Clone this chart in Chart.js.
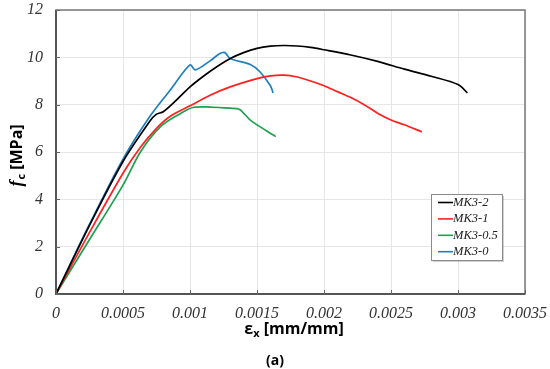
<!DOCTYPE html>
<html>
<head>
<meta charset="utf-8">
<script src="https://cdn.jsdelivr.net/npm/chart.js@4"></script>
<style>
  html, body { margin: 0; padding: 0; background: #fff; }
  #wrap { width: 550px; height: 369px; }
</style>
</head>
<body>
<div id="wrap"><canvas id="fc"></canvas></div>
<script>
// values (strain in mm/mm, stress in MPa)
var labels = ['MK3-2', 'MK3-1', 'MK3-0.5', 'MK3-0'];
var colors = ['#000000', '#ff1f1f', '#1fa050', '#1f7fbf'];

var strain2 = [0, 0.00025, 0.0005, 0.0007, 0.00075, 0.0008, 0.0009, 0.001, 0.0011, 0.0012, 0.0013, 0.0014, 0.0015, 0.0016, 0.0017, 0.0018, 0.0019, 0.002, 0.0022, 0.0024, 0.0026, 0.0028, 0.003, 0.00307];
var stress2 = [0, 2.9, 5.6, 7.3, 7.6, 7.7, 8.2, 8.75, 9.2, 9.6, 9.95, 10.2, 10.38, 10.47, 10.5, 10.48, 10.42, 10.32, 10.1, 9.83, 9.5, 9.2, 8.85, 8.5];

var strain1 = [0, 0.00025, 0.0005, 0.00063, 0.00075, 0.00085, 0.001, 0.00115, 0.0013, 0.0015, 0.0016, 0.0017, 0.0018, 0.0019, 0.002, 0.0021, 0.0022, 0.0023, 0.0024, 0.0025, 0.0026, 0.00273];
var stress1 = [0, 2.6, 5.1, 6.2, 7.0, 7.5, 7.95, 8.4, 8.75, 9.1, 9.22, 9.25, 9.17, 9.0, 8.8, 8.55, 8.3, 8.0, 7.64, 7.35, 7.15, 6.85];

var strain05 = [0, 0.00025, 0.0005, 0.00063, 0.00078, 0.00093, 0.00102, 0.00115, 0.0013, 0.00137, 0.00145, 0.00157, 0.00164];
var stress05 = [0, 2.3, 4.6, 6.0, 7.07, 7.63, 7.88, 7.9, 7.85, 7.8, 7.35, 6.9, 6.65];

var strain0 = [0, 0.00025, 0.0005, 0.0007, 0.00085, 0.001, 0.00104, 0.00115, 0.00122, 0.00126, 0.0013, 0.00145, 0.00152, 0.0016, 0.00162];
var stress0 = [0, 2.95, 5.7, 7.5, 8.6, 9.68, 9.47, 9.85, 10.15, 10.2, 9.95, 9.7, 9.4, 8.8, 8.5];

var xTicks = [0, 0.0005, 0.001, 0.0015, 0.002, 0.0025, 0.003, 0.0035];
var yTicks = [0, 2, 4, 6, 8, 10, 12];

function pts(xs, ys) {
    var out = [];
    for (var i = 0; i < xs.length; i++) out.push({x: xs[i], y: ys[i]});
    return out;
}

var series = [pts(strain2, stress2), pts(strain1, stress1), pts(strain05, stress05), pts(strain0, stress0)];
var datasets = series.map(function (d, i) {
    return {
        label: labels[i],
        data: d,
        borderColor: colors[i],
        backgroundColor: colors[i],
        borderWidth: 1.7,
        pointRadius: 0,
        tension: 0.3,
        fill: false
    };
});

var serif = '"Liberation Serif", "Times New Roman", serif';
var sans = '"Open Sans", "Noto Sans", sans-serif';

// keep the plot box where the picture has it
function noPad(s) {
    s.paddingTop = 0; s.paddingBottom = 0; s.paddingLeft = 0; s.paddingRight = 0;
}

var decor = {
    id: 'decor',
    afterDraw: function (chart) {
        var c = chart.ctx, a = chart.chartArea;
        c.save();
        // plot box
        c.strokeStyle = '#777';
        c.lineWidth = 1.5;
        c.strokeRect(a.left, a.top, a.right - a.left, a.bottom - a.top);
        c.strokeStyle = '#555';
        c.lineWidth = 2;
        c.beginPath();
        c.moveTo(a.left, a.top); c.lineTo(a.left, a.bottom); c.lineTo(a.right, a.bottom);
        c.stroke();
        // small inner ticks
        var xs = chart.scales.x, ys = chart.scales.y;
        c.strokeStyle = '#666';
        c.lineWidth = 1;
        xTicks.forEach(function (v) {
            var px = Math.round(xs.getPixelForValue(v)) + 0.5;
            c.beginPath(); c.moveTo(px, a.bottom); c.lineTo(px, a.bottom - 4); c.stroke();
        });
        yTicks.forEach(function (v) {
            var py = Math.round(ys.getPixelForValue(v)) + 0.5;
            c.beginPath(); c.moveTo(a.left, py); c.lineTo(a.left + 4, py); c.stroke();
        });

        // y title: f_c [MPa]
        c.fillStyle = '#000';
        c.translate(17, 156);
        c.rotate(-Math.PI / 2);
        c.textBaseline = 'middle';
        c.font = 'italic bold 18px ' + serif;
        var w1 = c.measureText('f').width;
        c.font = 'bold 11px ' + sans;
        var w2 = c.measureText('c').width;
        c.font = 'bold 16px ' + sans;
        var w3 = c.measureText(' [MPa]').width;
        var x0 = -(w1 + w2 + w3) / 2;
        c.textAlign = 'left';
        c.font = 'italic bold 18px ' + serif;
        c.fillText('f', x0, 0);
        c.font = 'bold 11px ' + sans;
        c.fillText('c', x0 + w1 + 1, 5);
        c.font = 'bold 16px ' + sans;
        c.fillText(' [MPa]', x0 + w1 + w2 + 1, 0);
        c.setTransform(1, 0, 0, 1, 0, 0);

        // x title: eps_x [mm/mm]
        c.textBaseline = 'middle';
        c.font = 'bold 16px ' + sans;
        var e1 = c.measureText('\u03b5').width;
        var e3 = c.measureText(' [mm/mm]').width;
        c.font = 'bold 11px ' + sans;
        var e2 = c.measureText('x').width;
        var cx = 294 - (e1 + e2 + e3) / 2;
        c.font = 'bold 16px ' + sans;
        c.fillText('\u03b5', cx, 329);
        c.font = 'bold 11px ' + sans;
        c.fillText('x', cx + e1, 334);
        c.font = 'bold 16px ' + sans;
        c.fillText(' [mm/mm]', cx + e1 + e2, 329);

        // panel label
        c.textAlign = 'center';
        c.font = 'bold 14px ' + sans;
        c.fillText('(a)', 275, 361);

        // legend box
        var lx = 431, ly = 194, lw = 71, lh = 66;
        c.fillStyle = 'rgba(0,0,0,0.18)';
        c.fillRect(lx + 2, ly + 2, lw, lh);
        c.fillStyle = '#fff';
        c.fillRect(lx, ly, lw, lh);
        c.strokeStyle = '#8a8a8a';
        c.lineWidth = 1;
        c.strokeRect(lx + 0.5, ly + 0.5, lw, lh);
        c.textAlign = 'left';
        c.font = 'italic 12.5px ' + serif;
        chart.data.datasets.forEach(function (ds, i) {
            var yy = ly + 8.5 + i * 16.4;
            c.strokeStyle = ds.borderColor;
            c.lineWidth = 1.6;
            c.beginPath(); c.moveTo(lx + 7, yy); c.lineTo(lx + 22, yy); c.stroke();
            c.fillStyle = '#222';
            c.fillText(ds.label, lx + 22, yy);
        });
        c.restore();
    }
};

new Chart(document.getElementById('fc'), {
    type: 'line',
    data: { datasets: datasets },
    plugins: [decor],
    options: {
        responsive: true,
        maintainAspectRatio: false,
        animation: false,
        layout: { padding: { top: 10, right: 25, left: 0, bottom: 0 } },
        plugins: { legend: { display: false }, tooltip: { enabled: false } },
        scales: {
            x: {
                type: 'linear',
                min: 0,
                max: 0.0035,
                afterFit: function (s) { s.height = 75; noPad(s); },
                afterBuildTicks: function (s) { s.ticks = xTicks.map(function (v) { return {value: v}; }); },
                grid: { color: '#e6e6e6', drawTicks: false },
                border: { display: false },
                ticks: {
                    padding: 10,
                    color: '#333',
                    maxRotation: 0,
                    font: { family: serif, style: 'italic', size: 16 },
                    callback: function (v) { return String(v); }
                }
            },
            y: {
                min: 0,
                max: 12,
                afterFit: function (s) { s.width = 56; noPad(s); },
                afterBuildTicks: function (s) { s.ticks = yTicks.map(function (v) { return {value: v}; }); },
                grid: { color: '#e6e6e6', drawTicks: false },
                border: { display: false },
                ticks: {
                    padding: 13,
                    color: '#333',
                    font: { family: serif, style: 'italic', size: 16 }
                }
            }
        }
    }
});
</script>
</body>
</html>
